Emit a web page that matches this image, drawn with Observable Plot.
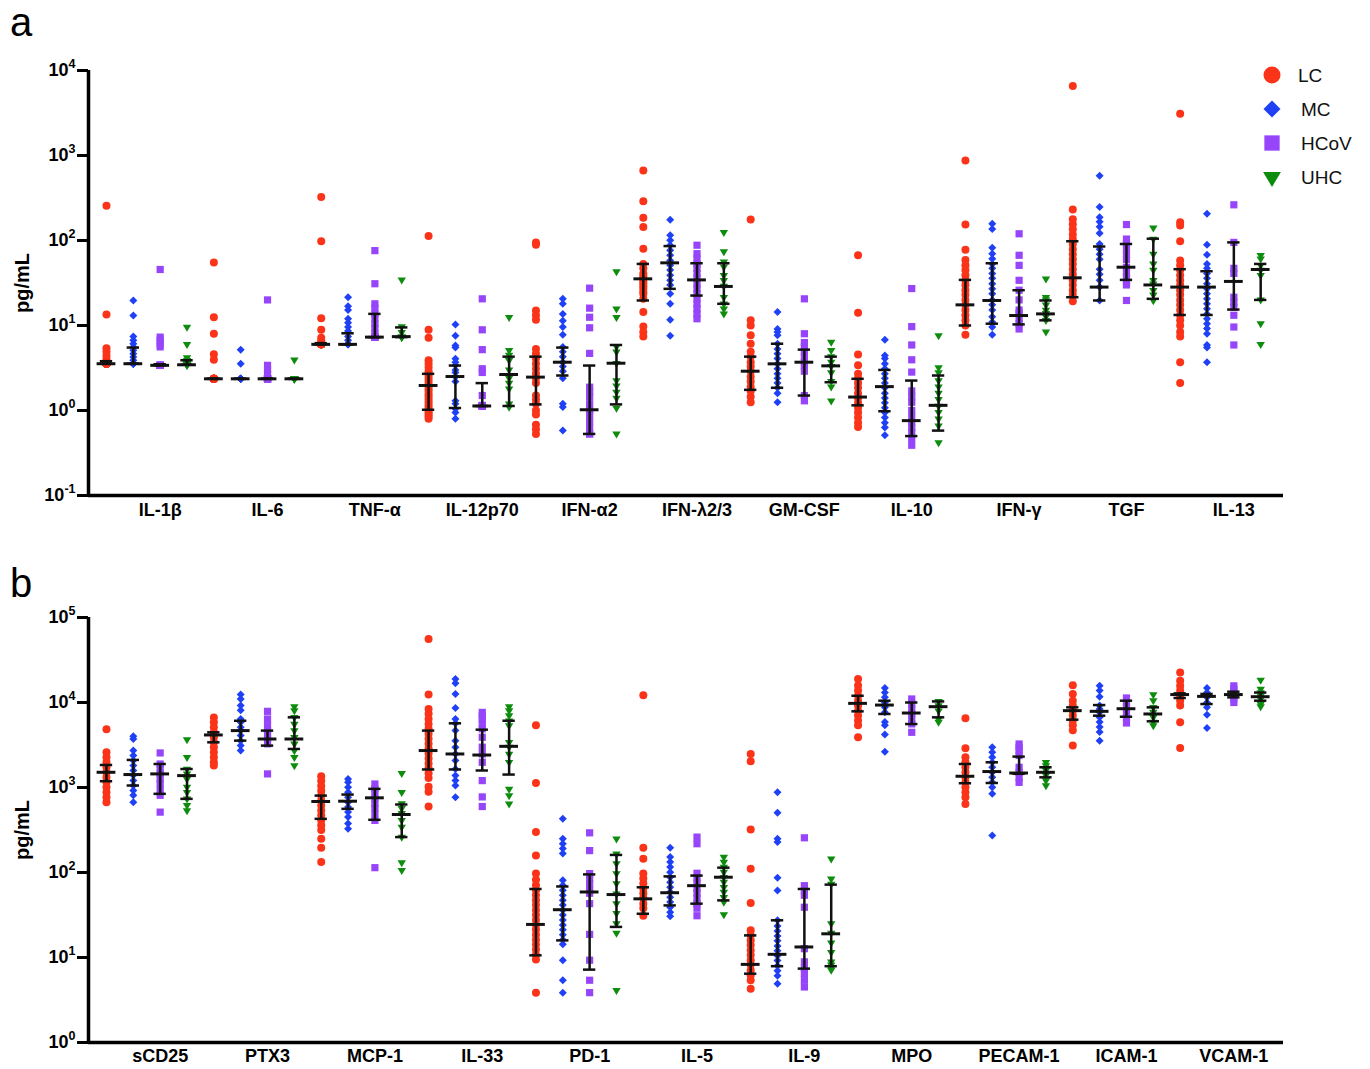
<!DOCTYPE html>
<html>
<head>
<meta charset="utf-8">
<script src="https://cdn.jsdelivr.net/npm/d3@7"></script>
<script src="https://cdn.jsdelivr.net/npm/@observablehq/plot@0.6"></script>
<style>
  body { margin: 0; background: #fff; font-family: "Liberation Sans", Arial, Helvetica, sans-serif; }
  #page { position: relative; width: 1370px; height: 1069px; overflow: hidden; }
  .panel { position: absolute; left: 0; }
  .tag { position: absolute; left: 10px; font-family: "Liberation Sans", Arial, sans-serif; font-size: 40px; line-height: normal; color: #000; }
  #legend { position: absolute; left: 1250px; top: 55px; }
</style>
</head>
<body>
<div id="page">
  <div class="tag" style="top:0px">a</div>
  <div class="tag" style="top:561px">b</div>
</div>
<script>
// ---- categories and groups ----
const groups = ["LC", "MC", "HCoV", "UHC"];
const groupColors = ["#fa3319", "#1f40f5", "#9645fa", "#0d8c0d"];

const categoriesA = ["IL-1β", "IL-6", "TNF-α", "IL-12p70", "IFN-α2", "IFN-λ2/3", "GM-CSF", "IL-10", "IFN-γ", "TGF", "IL-13"];
const categoriesB = ["sCD25", "PTX3", "MCP-1", "IL-33", "PD-1", "IL-5", "IL-9", "MPO", "PECAM-1", "ICAM-1", "VCAM-1"];

// ---- panel a: individual values (pg/mL), one list per category ----
const aLC = [
  [257, 13.5, 5.4, 4.9, 4.4, 4.0, 3.7, 3.55, 3.55, 3.55, 3.55, 3.55, 3.55, 3.55, 3.55, 3.55, 3.55, 3.55, 3.55],
  [55, 12.5, 8.0, 4.6, 3.95, 2.36, 2.36, 2.36, 2.36, 2.36, 2.36, 2.36, 2.36, 2.36, 2.36, 2.36, 2.36],
  [324, 98, 12.2, 8.9, 7.2, 6.6, 6.0, 6.0, 6.0, 6.0, 6.0, 6.0, 6.0, 6.0, 6.0, 6.0, 6.0, 6.0],
  [113, 8.9, 7.2, 3.9, 3.55, 3.2, 2.9, 2.7, 2.5, 2.3, 2.1, 1.95, 1.8, 1.7, 1.55, 1.45, 1.35, 1.25, 1.15, 1.08, 1.0, 0.95, 0.9, 0.85, 0.8],
  [89, 95, 15, 13.2, 11.7, 5.3, 4.65, 4.1, 3.55, 3.1, 2.7, 2.4, 2.1, 1.5, 1.35, 1.2, 1.0, 0.9, 0.68, 0.6, 0.53],
  [667, 290, 185, 144, 80, 53, 47, 41, 38, 35.4, 33, 31, 29, 27, 25, 23.6, 20.6, 14.4, 9.7, 8.4, 7.4],
  [177, 11.5, 10, 7.7, 6.1, 4.9, 4.3, 3.7, 3.3, 2.9, 2.5, 2.2, 1.9, 1.7, 1.45, 1.25],
  [67, 14.1, 4.56, 3.4, 2.7, 2.4, 2.1, 1.85, 1.6, 1.4, 1.23, 1.08, 0.95, 0.83, 0.72, 0.64],
  [873, 154, 78, 59, 51, 45, 39, 34, 30, 26, 23, 20, 17.5, 15.2, 13.2, 11.5, 10, 7.8],
  [6550, 232, 178, 155, 136, 118, 104, 91, 79, 69, 60, 53, 46, 40, 34, 30, 26, 23, 19.3],
  [3090, 164, 150, 98, 58, 51, 45, 39, 34, 30, 26, 23, 20, 17.5, 15.2, 13.2, 11.5, 10, 8.4, 7.4, 3.7, 2.1]
];
const aMC = [
  [19.7, 13.1, 7.4, 6.7, 6.1, 5.6, 5.1, 4.65, 4.25, 3.9, 3.55, 3.55, 3.55, 3.55, 3.55, 3.55],
  [5.2, 3.55, 2.36, 2.36, 2.36, 2.36, 2.36, 2.36, 2.36, 2.36, 2.36, 2.36],
  [21.5, 16.8, 15.2, 12, 10.8, 9.6, 8.6, 7.4, 6.7, 6.0, 6.0, 6.0, 6.0, 6.0, 6.0, 6.0],
  [10.3, 7.6, 5.8, 5.5, 4.06, 3.7, 3.4, 3.0, 2.8, 2.5, 2.2, 1.3, 1.2, 1.05, 0.95, 0.8],
  [20.6, 18, 13.7, 11.4, 9.6, 7.8, 5.6, 4.9, 4.3, 3.7, 3.3, 2.9, 2.4, 1.2, 1.1, 0.58],
  [175, 115, 101, 88, 77, 67, 58, 51, 45, 39, 34, 30, 23.6, 18, 11.7, 7.55],
  [14.4, 9.1, 8.4, 7.7, 6.1, 5.3, 4.65, 4.1, 3.55, 3.1, 2.7, 2.4, 2.1, 1.85, 1.6, 1.25],
  [6.8, 4.45, 4.1, 3.55, 3.1, 2.7, 2.4, 2.1, 1.85, 1.6, 1.4, 1.23, 1.08, 0.95, 0.83, 0.72, 0.63, 0.51],
  [157, 137, 82, 70, 61, 53, 47, 41, 36, 31, 27, 23.6, 20, 17.5, 15.2, 12.7, 11, 9.6, 7.8],
  [577, 247, 188, 166, 145, 122, 91, 79, 69, 60, 46, 40, 34, 28.3, 19.7],
  [206, 89, 68, 53, 47, 41, 36, 31, 27, 23.6, 20.6, 18, 15.7, 13.7, 12, 10.5, 9.2, 8.0, 5.9, 5.5, 3.7]
];
const aHCoV = [
  [45.6, 7.3, 6.7, 6.1, 5.6, 3.4, 3.4, 3.4, 3.4, 3.4, 3.4],
  [20, 3.4, 3.0, 2.7, 2.36, 2.36, 2.36, 2.36, 2.36, 2.36, 2.36],
  [76, 31, 18, 16, 13.7, 12, 10.5, 9.3, 8.1, 7.3, 7.3, 7.3, 7.3],
  [20.6, 8.9, 5.2, 3.1, 2.8, 1.5, 1.15, 1.13, 1.13, 1.13, 1.13, 1.13],
  [27.5, 16, 12.5, 9.4, 4.7, 1.88, 1.65, 1.45, 1.2, 1.0, 0.9, 0.75, 0.63, 0.53, 0.53],
  [88, 70, 61, 53, 47, 41, 36, 31, 27, 23.6, 20.6, 18, 15.7, 13.7, 12],
  [20.6, 8.0, 6.3, 5.6, 4.9, 4.3, 3.7, 3.3, 2.9, 1.5, 1.3],
  [27.2, 9.7, 5.9, 3.95, 2.83, 1.7, 1.45, 1.25, 1.0, 0.84, 0.72, 0.63, 0.55, 0.47, 0.39],
  [120, 67, 51, 34, 26, 20, 15.2, 13.9, 12, 10.5, 9.1],
  [154, 104, 91, 79, 69, 60, 48.5, 42, 37, 32, 30, 19.7],
  [263, 95, 47, 41, 21.5, 18.8, 16.4, 13.2, 9.6, 5.9]
];
const aUHC = [
  [9.6, 6.0, 4.2, 3.9, 3.6, 3.45, 3.45, 3.45, 3.45, 3.45, 3.45],
  [3.95, 2.36, 2.36, 2.36, 2.36, 2.36, 2.36],
  [34.4, 9.7, 8.3, 7.3, 7.3, 7.3, 7.3, 7.3],
  [12.5, 5.1, 4.5, 3.9, 3.0, 2.4, 2.1, 1.8, 1.2, 1.1],
  [43, 15.7, 12.5, 5.6, 4.9, 3.6, 2.25, 1.95, 1.65, 1.4, 1.07, 0.53],
  [125, 74, 56, 49, 39, 34, 29, 21.5, 18, 15.7, 13.7],
  [6.4, 5.1, 4.3, 3.7, 3.3, 2.8, 2.2, 1.9, 1.3],
  [7.6, 3.2, 2.8, 2.25, 1.9, 1.6, 1.35, 1.13, 0.95, 0.8, 0.66, 0.42],
  [35.4, 21.5, 20, 17.5, 15.2, 13.9, 12.7, 11.5, 8.4],
  [141, 104, 69, 53, 45, 34, 31, 26, 23, 19.7],
  [67, 61, 51, 45, 39, 20, 10.5, 6.0]
];

// ---- panel a: [first quartile, median, third quartile] per category ----
const aLCStats = [[3.55, 3.55, 3.8], [2.36, 2.36, 2.36], [6.0, 6.0, 6.2], [1.02, 1.97, 2.7], [1.18, 2.47, 4.3], [19.7, 35.4, 53], [1.75, 2.9, 4.3], [1.15, 1.44, 2.36], [10, 17.5, 34.4], [21.5, 36.4, 98], [13.3, 28.3, 46]];
const aMCStats = [[3.55, 3.55, 5.5], [2.36, 2.36, 2.36], [6.0, 6.0, 8.1], [1.07, 2.51, 3.38], [2.58, 3.7, 5.5], [27, 54.6, 86], [1.85, 3.54, 6.1], [0.98, 1.91, 3.0], [10.5, 19.7, 54], [19.7, 28.3, 85], [13.3, 28.3, 43.5]];
const aHCoVStats = [[3.4, 3.4, 3.5], [2.36, 2.36, 2.36], [7.3, 7.3, 13.7], [1.13, 1.13, 2.1], [0.53, 1.02, 3.38], [22.5, 34.4, 54], [1.5, 3.7, 5.2], [0.5, 0.76, 2.25], [10.3, 13.1, 26], [34.4, 48.5, 91], [15.4, 33, 95]];
const aUHCStats = [[3.45, 3.45, 3.9], [2.36, 2.36, 2.36], [7.3, 7.4, 9.5], [1.13, 2.65, 4.3], [1.18, 3.6, 5.9], [18, 28.8, 54], [2.15, 3.35, 4.3], [0.58, 1.15, 2.58], [11.5, 13.7, 19.7], [20.6, 30, 105], [20, 45.6, 53]];

// ---- panel b: individual values (pg/mL) ----
const bLC = [
  [4830, 2590, 2270, 1980, 1730, 1510, 1320, 1155, 1010, 880, 770, 671],
  [6680, 5850, 5120, 4460, 3900, 3400, 2980, 2590, 2270, 1980, 1810],
  [1356, 1200, 1045, 915, 803, 702, 615, 538, 470, 412, 360, 316, 249, 195, 133],
  [55700, 12400, 8400, 7350, 6400, 5600, 4900, 4290, 3750, 3280, 2870, 2510, 2200, 1920, 1680, 1470, 1290, 1020, 890, 597],
  [5400, 1130, 299, 159, 97, 82, 71, 62, 54, 47, 41.5, 36.3, 31.7, 27.7, 24.2, 21.2, 18.5, 16.2, 14.2, 12.4, 10.8, 9.5, 3.86],
  [12200, 196, 145, 97, 85, 74, 65, 57, 50, 43, 38, 31],
  [2480, 2040, 321, 111, 43.8, 20.9, 18.3, 16, 14, 12.2, 10.7, 9.3, 8.2, 7.1, 6.2, 5.4, 4.3],
  [18900, 15800, 13800, 12000, 10500, 9200, 8000, 7050, 6150, 5400, 3890],
  [6510, 2890, 2270, 1980, 1730, 1510, 1320, 1155, 1010, 880, 770, 641],
  [16000, 12600, 10500, 9200, 8000, 7050, 6150, 5400, 4700, 3110],
  [22600, 18000, 15700, 13800, 12000, 10500, 9200, 5850, 2920]
];
const bMC = [
  [4000, 3720, 2720, 2380, 2080, 1810, 1590, 1390, 1210, 1055, 925, 810, 671],
  [12400, 11000, 9200, 8100, 6400, 5850, 5120, 4670, 4090, 3560, 3110, 2720],
  [1262, 1150, 1010, 880, 770, 671, 588, 515, 450, 376, 327],
  [18900, 16900, 12600, 8610, 6400, 5690, 4670, 3560, 2980, 2480, 2080, 1650, 1380, 1210, 1055, 769],
  [428, 249, 218, 191, 167, 81, 71, 62, 54, 47, 41.5, 36.3, 31.7, 27.7, 24.2, 21.2, 18.5, 16.2, 14.3, 9.3, 5.4, 3.86],
  [196, 152, 133, 116, 101, 88, 77, 67, 59, 51, 45, 39, 34, 30.5],
  [880, 503, 249, 228, 87, 61.5, 27.4, 23.4, 20.5, 17.9, 15.7, 13.7, 12, 10.5, 9.2, 8.0, 7.0, 6.1, 4.9],
  [14800, 13100, 11500, 10000, 8800, 7700, 5900, 5400, 4190, 2640],
  [2970, 2600, 2270, 1980, 1730, 1510, 1320, 1155, 1010, 842, 272],
  [15700, 13800, 11700, 9200, 8400, 7700, 6700, 5900, 5150, 4500, 3560],
  [14800, 13100, 11500, 10000, 8800, 7190, 5010]
];
const bHCoV = [
  [2550, 1890, 1650, 1445, 1260, 1100, 925, 810, 513],
  [7870, 6400, 5340, 4670, 4090, 3720, 3260, 1445],
  [1100, 964, 845, 740, 648, 567, 488, 410, 114],
  [7650, 7000, 6400, 5600, 4900, 3900, 2980, 2480, 1980, 1205, 775, 597],
  [293, 181, 97, 85, 74, 62, 57, 43, 18.7, 9.3, 5.4, 3.86],
  [261, 218, 98, 86, 75, 65, 57, 50, 43, 38, 31],
  [256, 70, 61, 54, 39, 12.7, 8.9, 7.5, 6.5, 5.4, 4.5],
  [11000, 9600, 8400, 7350, 6400, 5600, 4460],
  [3250, 2970, 2720, 2380, 1730, 1510, 1320, 1150],
  [11300, 10000, 8800, 7700, 6700, 5740],
  [15700, 14400, 13100, 12000, 11000, 10000]
];
const bUHC = [
  [3660, 2270, 1650, 1445, 1260, 1010, 880, 735, 615, 535],
  [8930, 8020, 6690, 5570, 4670, 3900, 3260, 2720, 2270, 1810],
  [1470, 880, 648, 567, 496, 410, 343, 261, 131, 106],
  [8930, 8020, 7000, 6100, 5340, 3400, 2980, 2480, 1980, 960, 805, 641],
  [249, 166, 127, 97, 74, 56, 43, 33, 25, 19.4, 4.1],
  [152, 133, 116, 101, 88, 77, 67, 59, 51, 45, 32],
  [145, 84, 73, 25, 19.4, 14.9, 11.5, 8.9, 8.2, 7.5, 7.1],
  [10300, 9200, 8000, 6400, 5900],
  [1980, 1810, 1590, 1390, 1210, 1054],
  [12400, 10500, 8800, 7700, 6700, 5900, 5350],
  [18400, 14400, 13100, 12000, 11000, 9600, 8930]
];

// ---- panel b: [first quartile, median, third quartile] ----
const bLCStats = [[1186, 1510, 1840], [3400, 4150, 4460], [428, 684, 803], [1630, 2720, 4670], [10.6, 24.5, 64], [32.7, 49, 67], [6.45, 8.3, 18.2], [7870, 9770, 12000], [1122, 1356, 1890], [6280, 8020, 8770], [11300, 12400, 12800]];
const bMCStats = [[1055, 1420, 2110], [3560, 4670, 6100], [561, 690, 826], [1630, 2480, 5690], [15.9, 36.5, 68.5], [41, 57.8, 90], [7.9, 10.9, 27.4], [7330, 9330, 10500], [1130, 1540, 1980], [7000, 7870, 9330], [9590, 11800, 12600]];
const bHCoVStats = [[842, 1445, 1890], [3110, 3720, 4670], [417, 756, 964], [1585, 2410, 4790], [7.2, 59, 95], [43, 70, 92], [7.4, 13.3, 64], [5580, 7520, 10000], [1450, 1480, 2310], [6800, 8450, 10500], [11500, 12400, 13400]];
const bUHCStats = [[735, 1380, 1650], [2840, 3720, 6690], [261, 481, 631], [1420, 3050, 6100], [22.9, 55, 161], [47, 88, 114], [7.9, 19, 72], [6690, 8930, 10300], [1318, 1510, 1730], [6010, 7330, 8770], [10500, 11700, 13100]];

// ---- marker shapes (filled), scaled from Plot's symbol size ----
function shape(kind) {
  return {
    draw(ctx, size) {
      const r = Math.sqrt(size / Math.PI);
      if (kind === "circle") {
        ctx.moveTo(r, 0); ctx.arc(0, 0, r, 0, 2 * Math.PI);
      } else if (kind === "diamond") {
        const h = r * 1.0;
        ctx.moveTo(0, -h); ctx.lineTo(h, 0); ctx.lineTo(0, h); ctx.lineTo(-h, 0); ctx.closePath();
      } else if (kind === "square") {
        const s = r * 0.9;
        ctx.rect(-s, -s, 2 * s, 2 * s);
      } else {
        const w = r * 1.05, h = r * 1.75;
        ctx.moveTo(-w, -h / 3); ctx.lineTo(w, -h / 3); ctx.lineTo(0, 2 * h / 3); ctx.closePath();
      }
    }
  };
}
const groupShapes = [shape("circle"), shape("diamond"), shape("square"), shape("triangle")];

const SLOT_DOMAIN = [-0.67, 43.85];   // four slots per category
const MEDIAN_HALF = 0.35;             // half-width of median bar, in slots
const CAP_HALF = 0.23;                // half-width of quartile caps
const SVGNS = "http://www.w3.org/2000/svg";

function buildPanel({categories, series, stats, domain, height, marginTop, marginBottom, tickPadding}) {
  const rows = [], summary = [];
  groups.forEach((g, gi) => {
    series[gi].forEach((vals, ci) => {
      const slot = ci * 4 + gi;
      vals.forEach(v => rows.push({group: g, slot, value: v}));
      const [q1, med, q3] = stats[gi][ci];
      summary.push({group: g, slot, q1, med, q3});
    });
  });
  const lo = Math.round(Math.log10(domain[0])), hi = Math.round(Math.log10(domain[1]));
  const decades = d3.range(lo, hi + 1).map(e => Math.pow(10, e));

  const svg = Plot.plot({
    width: 1370, height,
    marginLeft: 88, marginRight: 87, marginTop, marginBottom,
    style: {fontFamily: '"Liberation Sans", Arial, Helvetica, sans-serif', color: "#000", background: "transparent", overflow: "visible"},
    x: {type: "linear", domain: SLOT_DOMAIN},
    y: {type: "log", domain},
    marks: [
      ...groups.map((g, gi) => Plot.dot(rows.filter(d => d.group === g), {
        x: "slot", y: "value", r: 4, symbol: groupShapes[gi], fill: groupColors[gi], stroke: "none"
      })),
      Plot.ruleX(summary, {x: "slot", y1: "q1", y2: "q3", stroke: "#111", strokeWidth: 2.5}),
      Plot.ruleY(summary, {y: "q1", x1: d => d.slot - CAP_HALF, x2: d => d.slot + CAP_HALF, stroke: "#111", strokeWidth: 2.5}),
      Plot.ruleY(summary, {y: "q3", x1: d => d.slot - CAP_HALF, x2: d => d.slot + CAP_HALF, stroke: "#111", strokeWidth: 2.5}),
      Plot.ruleY(summary, {y: "med", x1: d => d.slot - MEDIAN_HALF, x2: d => d.slot + MEDIAN_HALF, stroke: "#111", strokeWidth: 3}),
      Plot.ruleX([SLOT_DOMAIN[0]], {stroke: "#000", strokeWidth: 3.5}),
      Plot.ruleY([domain[0]], {stroke: "#000", strokeWidth: 3.5}),
      Plot.axisY(decades, {
        tickSize: 11, tickPadding: 2, strokeWidth: 3,
        tickFormat: d => String(Math.round(Math.log10(d))),
        fontSize: 17, fontWeight: "bold",
        label: "pg/mL", labelAnchor: "center", labelArrow: "none", labelOffset: 74
      }),
      Plot.axisX(categories.map((c, i) => i * 4 + 2), {
        tickSize: 0, tickPadding, label: null,
        tickFormat: d => categories[(d - 2) / 4],
        fontSize: 18, fontWeight: "bold"
      })
    ]
  });

  // tick labels as 10 with a raised exponent
  svg.querySelectorAll('[aria-label="y-axis tick label"] text').forEach(t => {
    const exp = t.textContent;
    t.textContent = "";
    t.style.fontSize = "18px";
    t.style.fontWeight = "bold";
    const base = document.createElementNS(SVGNS, "tspan");
    base.textContent = "10";
    base.style.fontSize = "18px";
    const sup = document.createElementNS(SVGNS, "tspan");
    sup.textContent = exp;
    sup.setAttribute("dy", "-8");
    sup.style.fontSize = "12.5px";
    t.append(base, sup);
  });
  svg.querySelectorAll('[aria-label="y-axis label"] text').forEach(t => {
    t.style.fontSize = "20px";
    t.style.fontWeight = "bold";
  });
  svg.querySelectorAll('[aria-label="x-axis tick label"] text').forEach(t => {
    t.style.fontSize = "18px";
    t.style.fontWeight = "bold";
  });
  return svg;
}

const page = document.getElementById("page");

const panelA = buildPanel({
  categories: categoriesA,
  series: [aLC, aMC, aHCoV, aUHC],
  stats: [aLCStats, aMCStats, aHCoVStats, aUHCStats],
  domain: [0.1, 1e4], height: 545, marginTop: 70, marginBottom: 50, tickPadding: 8
});
panelA.classList.add("panel");
panelA.style.top = "0px";
page.appendChild(panelA);

const panelB = buildPanel({
  categories: categoriesB,
  series: [bLC, bMC, bHCoV, bUHC],
  stats: [bLCStats, bMCStats, bHCoVStats, bUHCStats],
  domain: [1, 1e5], height: 524, marginTop: 72, marginBottom: 27, tickPadding: 7
});
panelB.classList.add("panel");
panelB.style.top = "545px";
page.appendChild(panelB);

// ---- legend ----
const legend = d3.select(page).append("svg")
  .attr("id", "legend").attr("width", 120).attr("height", 140);
groups.forEach((g, i) => {
  const cy = 20 + i * 34;
  const p = d3.path();
  groupShapes[i].draw(p, Math.PI * 8.5 * 8.5);
  legend.append("path").attr("d", p.toString())
    .attr("transform", `translate(22,${cy})`).attr("fill", groupColors[i]);
  legend.append("text").attr("x", i === 0 ? 48 : 51).attr("y", cy).attr("dy", "0.36em")
    .attr("font-size", 19).attr("font-family", '"Liberation Sans", Arial, sans-serif')
    .attr("fill", "#111").text(g);
});
</script>
</body>
</html>
